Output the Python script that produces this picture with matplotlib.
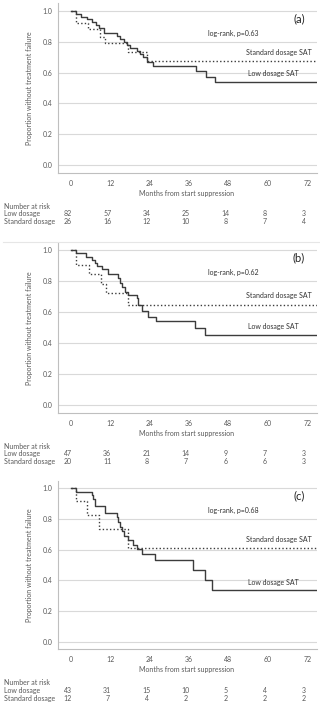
import matplotlib.pyplot as plt
from matplotlib import transforms

plt.rcParams["font.family"] = ["Lato", "DejaVu Sans"]

# panel labels and log-rank p values
panels = ["(a)", "(b)", "(c)"]
p_values = ["0.63", "0.62", "0.68"]

# Kaplan-Meier steps (months, proportion)
low_times = [
    [1.5, 3, 5, 6.5, 7.5, 8.5, 10, 14, 15, 16, 17, 18, 20, 21, 22, 23, 25, 38, 41, 44],
    [1.5, 4.5, 6.3, 7.3, 8, 9.4, 11.4, 14.4, 14.9, 15.4, 16.5, 17.5, 20, 20.5, 21.5, 23.6, 25.9, 37.8, 40.9],
    [1.5, 6.3, 6.8, 7.3, 10.4, 13.9, 14.4, 14.9, 15.5, 16, 17.5, 19, 20, 21.5, 25.6, 37.3, 40.9, 43.1],
]
low_surv = [
    [0.98, 0.96, 0.95, 0.93, 0.91, 0.89, 0.86, 0.84, 0.82, 0.80, 0.78, 0.76, 0.74, 0.72, 0.70, 0.67, 0.64, 0.61, 0.57, 0.54],
    [0.98, 0.96, 0.94, 0.92, 0.90, 0.88, 0.845, 0.82, 0.79, 0.76, 0.73, 0.71, 0.69, 0.65, 0.61, 0.57, 0.545, 0.50, 0.455],
    [0.977, 0.953, 0.93, 0.884, 0.837, 0.81, 0.78, 0.75, 0.72, 0.69, 0.663, 0.63, 0.605, 0.57, 0.53, 0.465, 0.40, 0.335],
]
std_times = [
    [1.5, 5.3, 8.8, 10.2, 17.5, 23],
    [1.6, 5.4, 9, 10.5, 17.5],
    [1.5, 5, 8.6, 17.5],
]
std_surv = [
    [0.92, 0.88, 0.83, 0.79, 0.735, 0.675],
    [0.905, 0.845, 0.785, 0.725, 0.65],
    [0.917, 0.825, 0.733, 0.61],
]
end_month = 75

# number at risk table
risk_months = [0, 12, 24, 36, 48, 60, 72]
low_risk = [[82, 57, 34, 25, 14, 8, 3], [47, 36, 21, 14, 9, 7, 3], [43, 31, 15, 10, 5, 4, 3]]
std_risk = [[26, 16, 12, 10, 8, 7, 4], [20, 11, 8, 7, 6, 6, 3], [12, 7, 4, 2, 2, 2, 2]]

W, H = 320, 710
fig = plt.figure(figsize=(3.2, 7.1), dpi=100)

line_col = "#3c3c3c"
txt_col = "#595959"
grid_col = "#d9d9d9"

# axes top / bottom in pixels
ax_pix = [(3.3, 172.7), (242.6, 412.9), (480.6, 649.4)]

for i in range(3):
    top, bot = ax_pix[i]
    ax = fig.add_axes([58.3 / W, 1 - bot / H, (317 - 58.3) / W, (bot - top) / H])
    ax.set_xlim(-3.9, end_month)
    ax.set_ylim(-0.05, 1.05)

    x = [0] + low_times[i] + [end_month]
    y = [1.0] + low_surv[i] + [low_surv[i][-1]]
    ax.step(x, y, where="post", color=line_col, lw=1.0, zorder=3)
    x = [0] + std_times[i] + [end_month]
    y = [1.0] + std_surv[i] + [std_surv[i][-1]]
    ax.step(x, y, where="post", color=line_col, lw=1.0, ls=(0, (1, 1.6)), zorder=3)

    ax.set_yticks([0, 0.2, 0.4, 0.6, 0.8, 1.0])
    ax.set_yticklabels(["0.0", "0.2", "0.4", "0.6", "0.8", "1.0"])
    ax.set_xticks(risk_months)
    ax.grid(axis="y", color=grid_col, lw=0.8)
    ax.set_axisbelow(True)
    ax.tick_params(length=0, labelsize=5, colors=txt_col, pad=4)
    ax.tick_params(axis="x", pad=5)
    for s in ["top", "right"]:
        ax.spines[s].set_visible(False)
    for s in ["left", "bottom"]:
        ax.spines[s].set_color("#bfbfbf")
        ax.spines[s].set_linewidth(0.8)

    ax.set_ylabel("Proportion without treatment failure", fontsize=5, color=txt_col, labelpad=7)

    ax.text(69.5, 0.95, panels[i], fontsize=8, color="#222222", ha="center", va="center")
    ax.text(49.5, 0.855, "log-rank, p=" + p_values[i], fontsize=5, color="#333333", ha="center", va="center")
    ax.text(73.5, std_surv[i][-1] + 0.035, "Standard dosage SAT", fontsize=5, color="#333333",
            ha="right", va="bottom")
    ax.text(69.5, low_surv[i][-1] + 0.03, "Low dosage SAT", fontsize=5, color="#333333",
            ha="right", va="bottom")

    # x label and risk table below the axes
    fig.text(187 / W, 1 - (bot + 20.5) / H, "Months from start suppression", fontsize=5,
             color=txt_col, ha="center", va="center")
    fig.text(4 / W, 1 - (bot + 33.5) / H, "Number at risk", fontsize=5, color=txt_col, va="center")
    fig.text(4 / W, 1 - (bot + 41) / H, "Low dosage", fontsize=5, color=txt_col, va="center")
    fig.text(4 / W, 1 - (bot + 49) / H, "Standard dosage", fontsize=5, color=txt_col, va="center")
    trans = transforms.blended_transform_factory(ax.transData, fig.transFigure)
    for m, a, b in zip(risk_months, low_risk[i], std_risk[i]):
        ax.text(m - 1, 1 - (bot + 41) / H, str(a), transform=trans, fontsize=5, color=txt_col,
                ha="center", va="center")
        ax.text(m - 1, 1 - (bot + 49) / H, str(b), transform=trans, fontsize=5, color=txt_col,
                ha="center", va="center")

# faint separator line between the first two figures
fig.add_artist(plt.Line2D([3 / W, 1], [1 - 241.7 / H, 1 - 241.7 / H], color="#e6e6e6", lw=0.8))

fig.savefig("out.png", dpi=100)
